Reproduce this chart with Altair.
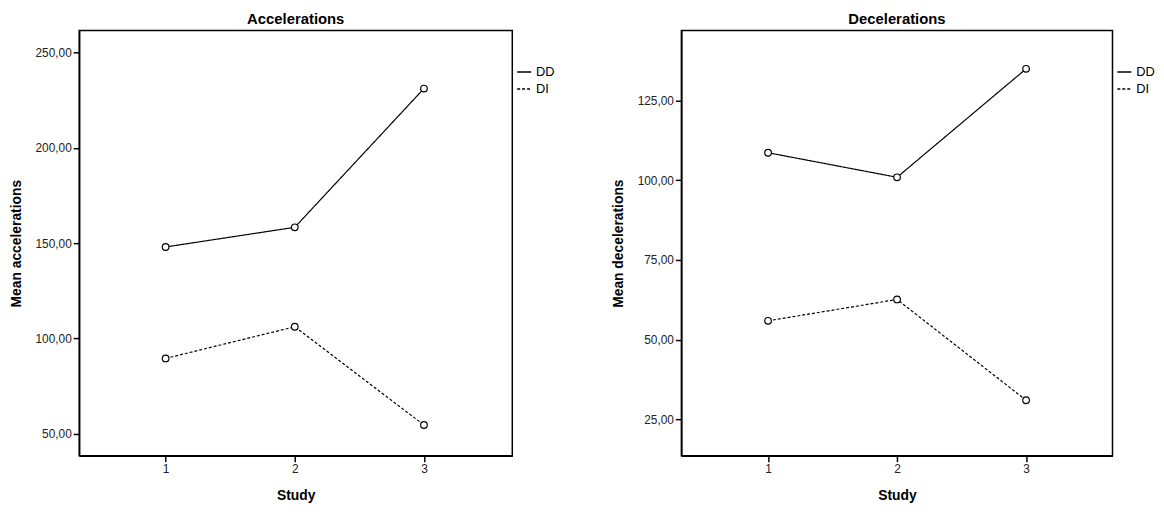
import altair as alt
import pandas as pd

study = [1, 2, 3]
acc_dd = [148.0, 158.3, 231.0]
acc_di = [89.6, 106.2, 54.7]
dec_dd = [108.6, 100.9, 134.9]
dec_di = [55.9, 62.6, 31.0]

acc = pd.DataFrame({"Study": study * 2, "Mean": acc_dd + acc_di, "Group": ["DD"] * 3 + ["DI"] * 3})
dec = pd.DataFrame({"Study": study * 2, "Mean": dec_dd + dec_di, "Group": ["DD"] * 3 + ["DI"] * 3})

FONT = "Liberation Sans"
lbl = "replace(format(datum.value, '.2f'), '.', ',')"


def panel(df, title, ytitle, ydom, yticks, xdom, w):
    x = alt.X("Study:Q", title="Study", scale=alt.Scale(domain=xdom, nice=False),
              axis=alt.Axis(values=[1, 2, 3], format="d", titlePadding=14))
    y = alt.Y("Mean:Q", title=ytitle, scale=alt.Scale(domain=ydom, nice=False, zero=False),
              axis=alt.Axis(values=yticks, labelExpr=lbl, titlePadding=12))
    dash = alt.StrokeDash("Group:N", scale=alt.Scale(domain=["DD", "DI"], range=[[1, 0], [3, 2]]),
                          legend=alt.Legend(title=None, orient="none", legendX=w + 4,
                                            legendY=34, symbolType="stroke", symbolSize=200,
                                            symbolStrokeWidth=1.5, labelFontSize=13, rowPadding=2,
                                            labelFont=FONT, symbolStrokeColor="black"))
    line = alt.Chart(df).mark_line(color="black", strokeWidth=1.2).encode(x=x, y=y, strokeDash=dash, detail="Group:N")
    pts = alt.Chart(df).mark_point(shape="circle", filled=True, fill="white", stroke="black",
                                   strokeWidth=1.2, size=45, opacity=1).encode(x=x, y=y, detail="Group:N")
    return (line + pts).properties(width=w, height=430, title=title)


left = panel(acc, "Accelerations", "Mean accelerations", [38.6, 261.4], [50, 100, 150, 200, 250], [0.331, 3.684], 438)
right = panel(dec, "Decelerations", "Mean decelerations", [13.6, 146.9], [25, 50, 75, 100, 125], [0.328, 3.67], 436)

chart = (
    alt.hconcat(left, right, spacing=55)
    .resolve_scale(strokeDash="independent")
    .properties(padding={"left": 0, "top": 0, "right": 0, "bottom": 0})
    .configure_view(stroke="black", strokeWidth=1.5)
    .configure_axis(grid=False, domainColor="black", tickColor="black", tickSize=6, tickWidth=1.5,
                    labelFont=FONT, titleFont=FONT, labelFontSize=12, titleFontSize=14,
                    labelColor="#222", titleColor="black", domainWidth=1.5)
    .configure_title(font=FONT, fontSize=15, fontWeight="bold", offset=4)
)
chart.save("out.html", embed_options={"renderer": "svg", "actions": False})
